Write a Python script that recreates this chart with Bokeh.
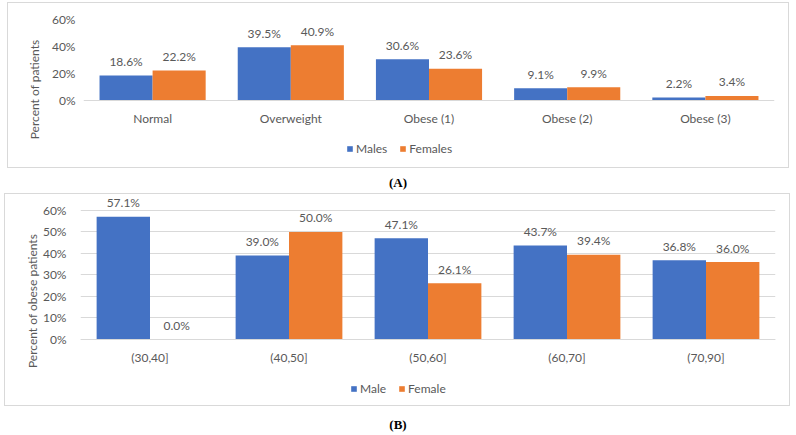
from bokeh.plotting import figure
from bokeh.models import (ColumnDataSource, Range1d, FactorRange, FixedTicker,
                          PrintfTickFormatter, Legend, LegendItem, Div)
from bokeh.transform import dodge
from bokeh.layouts import column
from bokeh.core.properties import value
from bokeh.embed import file_html
from bokeh.resources import INLINE

# BMI class distribution by sex (percent of patients)
bmi_categories = ["Normal", "Overweight", "Obese (1)", "Obese (2)", "Obese (3)"]
bmi_males = [18.6, 39.5, 30.6, 9.1, 2.2]
bmi_females = [22.2, 40.9, 23.6, 9.9, 3.4]

# Share of obese patients by age group and sex (percent)
age_groups = ["(30,40]", "(40,50]", "(50,60]", "(60,70]", "(70,90]"]
obese_male = [57.1, 39.0, 47.1, 43.7, 36.8]
obese_female = [0.0, 50.0, 26.1, 39.4, 36.0]

BLUE = "#4472C4"
ORANGE = "#ED7D31"
TEXT = "#595959"
FONT = "Lato"
BAR_W = 0.384


def panel(categories, male, female, male_name, female_name, ylabel,
          width, height, y_range, ticks, borders, legend_loc,
          tick_standoff, label_standoff):
    left, right, top, bottom = borders
    p = figure(width=width, height=height,
               x_range=FactorRange(*categories, range_padding=0.0,
                                   factor_padding=0.0),
               y_range=Range1d(*y_range), output_backend="svg",
               toolbar_location=None, min_border_left=left,
               min_border_right=right, min_border_top=top,
               min_border_bottom=bottom,
               styles={"border": "1px solid #D9D9D9"})
    p.background_fill_color = "white"
    p.border_fill_color = "white"
    p.outline_line_color = None

    src = ColumnDataSource(dict(
        cat=categories, male=male, female=female,
        male_lbl=[f"{v:.1f}%" for v in male],
        female_lbl=[f"{v:.1f}%" for v in female],
    ))
    xm = dodge("cat", -BAR_W / 2, range=p.x_range)
    xf = dodge("cat", BAR_W / 2, range=p.x_range)
    rm = p.vbar(x=xm, top="male", width=BAR_W, source=src,
                fill_color=BLUE, line_color=None)
    rf = p.vbar(x=xf, top="female", width=BAR_W, source=src,
                fill_color=ORANGE, line_color=None)

    for x, col in ((xm, "male"), (xf, "female")):
        p.text(x=x, y=col, text=col + "_lbl", source=src, y_offset=-14,
               text_align="center", text_baseline="middle",
               text_font=value(FONT), text_font_size="12px",
               text_color=TEXT)

    # value axis: percent ticks, no line, no tick marks
    p.yaxis.ticker = FixedTicker(ticks=ticks)
    p.yaxis.formatter = PrintfTickFormatter(format="%d%%")
    p.yaxis.axis_line_color = None
    p.yaxis.major_tick_line_color = None
    p.yaxis.minor_tick_line_color = None
    p.yaxis.major_tick_out = 0
    p.yaxis.minor_tick_out = 0
    p.yaxis.major_tick_in = 0
    p.yaxis.major_label_standoff = tick_standoff
    p.yaxis.axis_label = ylabel
    p.yaxis.axis_label_standoff = label_standoff
    # category axis sits on the zero line, legend below it
    p.xaxis.fixed_location = 0
    p.xaxis.axis_line_color = "#D9D9D9"
    p.xaxis.major_tick_line_color = None
    p.xaxis.major_tick_out = 0
    p.xaxis.major_label_standoff = 10
    for ax in (p.xaxis, p.yaxis):
        ax.major_label_text_font = FONT
        ax.major_label_text_font_size = "12px"
        ax.major_label_text_color = TEXT
        ax.axis_label_text_font = FONT
        ax.axis_label_text_font_size = "12px"
        ax.axis_label_text_font_style = "normal"
        ax.axis_label_text_color = TEXT
    p.xgrid.grid_line_color = None
    p.ygrid.ticker = FixedTicker(ticks=ticks)
    p.ygrid.grid_line_color = "#D9D9D9"

    legend = Legend(items=[LegendItem(label=male_name, renderers=[rm]),
                           LegendItem(label=female_name, renderers=[rf])],
                    orientation="horizontal", location=legend_loc,
                    glyph_width=7, glyph_height=7, label_standoff=3,
                    spacing=12, padding=0, margin=0,
                    border_line_color=None, background_fill_alpha=0,
                    label_text_font=FONT, label_text_font_size="12px",
                    label_text_color=TEXT)
    p.add_layout(legend, "center")
    return p


pa = panel(bmi_categories, bmi_males, bmi_females, "Males", "Females",
           "Percent of patients", 782, 166, (-48.9, 65.2), [0, 20, 40, 60],
           (72, 16, 9, 3), (263, 10), 8, 7)
pa.ygrid.grid_line_color = None
pa.margin = (2, 0, 0, 7)

pb = panel(age_groups, obese_male, obese_female, "Male", "Female",
           "Percent of obese patients", 786, 213, (-30.2, 66.0),
           [0, 10, 20, 30, 40, 50, 60], (75, 15, 3, 3), (270, 8), 14, 0)
pb.margin = (0, 0, 0, 4)

cap_style = {"text-align": "center", "font-family": "Liberation Serif",
             "font-size": "13px", "font-weight": "bold", "color": "#000"}
cap_a = Div(text="(A)", width=796, height=25, margin=0,
            styles=dict(cap_style, **{"line-height": "30px"}))
cap_b = Div(text="(B)", width=796, height=25, margin=0,
            styles=dict(cap_style, **{"line-height": "38px"}))

layout = column(pa, cap_a, pb, cap_b, spacing=0)
open("out.html", "w").write(file_html(layout, INLINE))
